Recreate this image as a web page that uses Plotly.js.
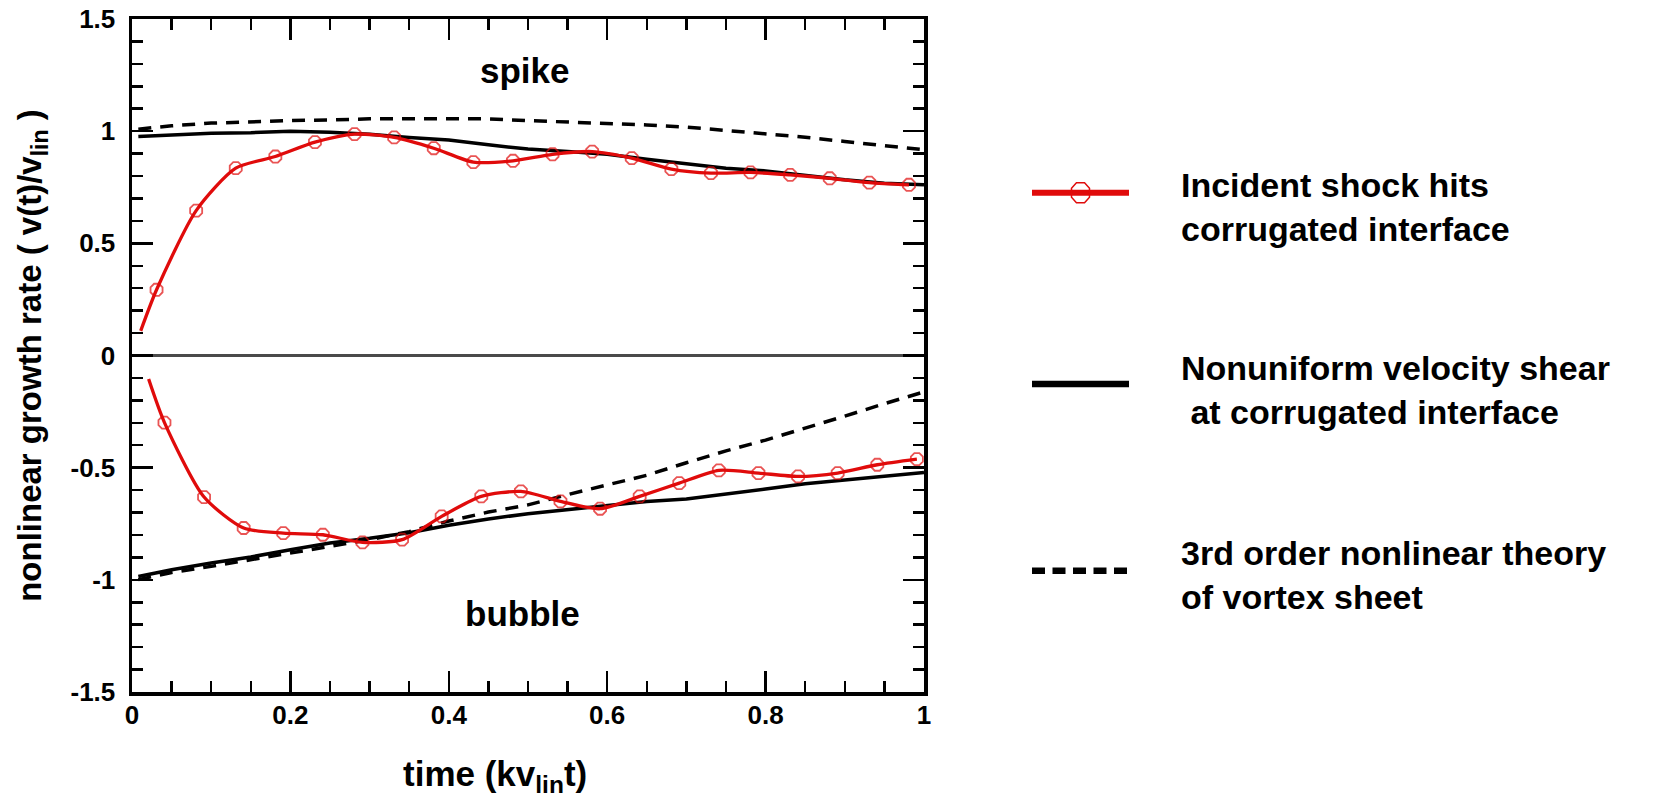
<!DOCTYPE html>
<html>
<head>
<meta charset="utf-8">
<script src="https://cdn.plot.ly/plotly-3.0.1.min.js"></script>
<style>
  html, body { margin: 0; padding: 0; background: #ffffff; }
  #chart { width: 1665px; height: 801px; }
</style>
</head>
<body>
<div id="chart"></div>
<script>
// ---- simulation: incident shock hitting a corrugated interface ----
const shockSpikeT = [0.011, 0.031, 0.081, 0.131, 0.181, 0.231, 0.281, 0.331, 0.381, 0.431, 0.481,
                     0.531, 0.581, 0.631, 0.681, 0.731, 0.781, 0.831, 0.881, 0.931, 0.981];
const shockSpikeV = [0.110, 0.293, 0.646, 0.835, 0.887, 0.951, 0.987, 0.972, 0.924, 0.862, 0.868,
                     0.897, 0.909, 0.880, 0.831, 0.813, 0.816, 0.805, 0.790, 0.771, 0.761];
const shockBubbleT = [0.021, 0.041, 0.091, 0.141, 0.191, 0.241, 0.291, 0.341, 0.391, 0.441, 0.491,
                      0.541, 0.591, 0.641, 0.691, 0.741, 0.791, 0.841, 0.891, 0.941, 0.991];
const shockBubbleV = [-0.105, -0.299, -0.631, -0.769, -0.792, -0.799, -0.833, -0.821, -0.717, -0.628, -0.606,
                      -0.650, -0.683, -0.628, -0.569, -0.512, -0.524, -0.539, -0.524, -0.487, -0.462];

// ---- models: nonuniform velocity shear and 3rd order vortex-sheet theory ----
const modelT = [0.008, 0.05, 0.10, 0.15, 0.20, 0.25, 0.30, 0.35, 0.40, 0.45, 0.50,
                0.55, 0.60, 0.65, 0.70, 0.75, 0.80, 0.85, 0.90, 0.95, 1.00];
const shearSpikeV = [0.976, 0.983, 0.991, 0.993, 1.000, 0.995, 0.986, 0.972, 0.961, 0.939, 0.920,
                     0.909, 0.897, 0.875, 0.854, 0.835, 0.823, 0.804, 0.783, 0.768, 0.761];
const shearBubbleV = [-0.985, -0.955, -0.925, -0.898, -0.866, -0.836, -0.815, -0.790, -0.757, -0.729, -0.705,
                      -0.688, -0.668, -0.651, -0.640, -0.616, -0.595, -0.572, -0.554, -0.536, -0.521];
const vortexSpikeV = [1.009, 1.024, 1.036, 1.043, 1.047, 1.050, 1.055, 1.055, 1.055, 1.055, 1.047,
                      1.041, 1.036, 1.028, 1.018, 1.003, 0.991, 0.973, 0.954, 0.935, 0.917];
const vortexBubbleV = [-0.999, -0.967, -0.940, -0.910, -0.881, -0.851, -0.821, -0.785, -0.738, -0.698, -0.666,
                       -0.620, -0.576, -0.534, -0.478, -0.425, -0.377, -0.325, -0.270, -0.215, -0.162];

// ---- axis ticks ----
const xTickVals = [0, 0.2, 0.4, 0.6, 0.8, 1];
const xTickText = ['0', '0.2', '0.4', '0.6', '0.8', '1'];
const yTickVals = [-1.5, -1, -0.5, 0, 0.5, 1, 1.5];
const yTickText = ['-1.5', '-1', '-0.5', '0', '0.5', '1', '1.5'];

// ---- legend entries ----
const legendLabels = [
  'Incident shock hits<br>corrugated interface',
  'Nonuniform velocity shear<br>\u00a0at corrugated interface',
  '3rd order nonlinear theory<br>of vortex sheet'
];

const FONT = 'Liberation Sans, Arial, Helvetica, sans-serif';
const RED = '#e00b0b';
const W = 1665, H = 801;
const M = { l: 132, r: 741, t: 19, b: 109, pad: 0 };
const plotW = W - M.l - M.r;
const plotH = H - M.t - M.b;
const px = v => (v - M.l) / plotW;          // page pixel -> paper x
const py = v => (H - M.b - v) / plotH;      // page pixel -> paper y

// open markers on every simulation sample except the first one
const markerSizes = arr => arr.map((_, i) => (i === 0 ? 0 : 13));

const shockStyle = {
  mode: 'lines+markers',
  line: { color: RED, width: 3.3, shape: 'spline', smoothing: 0.7 },
  marker: { symbol: 'octagon-open', color: RED, line: { color: RED, width: 1.8 } },
  showlegend: false, hoverinfo: 'x+y'
};

const traces = [
  { x: modelT, y: vortexSpikeV, mode: 'lines', line: { color: '#000', width: 3.5, dash: '13px,9px' }, showlegend: false },
  { x: modelT, y: vortexBubbleV, mode: 'lines', line: { color: '#000', width: 3.5, dash: '13px,9px' }, showlegend: false },
  { x: modelT, y: shearSpikeV, mode: 'lines', line: { color: '#000', width: 3.5 }, showlegend: false },
  { x: modelT, y: shearBubbleV, mode: 'lines', line: { color: '#000', width: 3.5 }, showlegend: false },
  Object.assign({}, shockStyle, { x: shockSpikeT, y: shockSpikeV,
    marker: Object.assign({}, shockStyle.marker, { size: markerSizes(shockSpikeT) }) }),
  Object.assign({}, shockStyle, { x: shockBubbleT, y: shockBubbleV,
    marker: Object.assign({}, shockStyle.marker, { size: markerSizes(shockBubbleT) }) })
];

// legend keys drawn beside the plot
const keyX0 = 1032, keyX1 = 1129;
const keyY = [192.7, 384, 570.7];
const octagon = (cx, cy, hw, hh) => {
  const c = 0.45;
  const pts = [[-hw * c, -hh], [hw * c, -hh], [hw, -hh * c], [hw, hh * c],
               [hw * c, hh], [-hw * c, hh], [-hw, hh * c], [-hw, -hh * c]];
  return 'M' + pts.map(p => px(cx + p[0]) + ',' + py(cy + p[1])).join('L') + 'Z';
};

const shapes = [
  { type: 'line', xref: 'paper', yref: 'paper', x0: px(keyX0), x1: px(keyX1), y0: py(keyY[0]), y1: py(keyY[0]),
    line: { color: RED, width: 6 } },
  { type: 'path', xref: 'paper', yref: 'paper', path: octagon((keyX0 + keyX1) / 2, keyY[0], 9, 10),
    line: { color: RED, width: 1.5 }, fillcolor: 'rgba(0,0,0,0)' },
  { type: 'line', xref: 'paper', yref: 'paper', x0: px(keyX0), x1: px(keyX1), y0: py(keyY[1]), y1: py(keyY[1]),
    line: { color: '#000', width: 6.5 } },
  { type: 'line', xref: 'paper', yref: 'paper', x0: px(keyX0), x1: px(keyX1), y0: py(keyY[2]), y1: py(keyY[2]),
    line: { color: '#000', width: 6.5, dash: '13px,7.5px' } }
];

const boldFont = size => ({ family: FONT, size: size, color: '#000', weight: 'bold' });
const legendCenters = [207, 390.3, 575.3];

const annotations = [
  { xref: 'paper', yref: 'paper', x: px(525), y: py(71), text: 'spike', showarrow: false,
    xanchor: 'center', yanchor: 'middle', font: boldFont(35) },
  { xref: 'paper', yref: 'paper', x: px(522), y: py(613), text: 'bubble', showarrow: false,
    xanchor: 'center', yanchor: 'middle', font: boldFont(35) },
  { xref: 'paper', yref: 'paper', x: px(495), y: py(776), text: 'time (kv<sub>lin</sub>t)', showarrow: false,
    xanchor: 'center', yanchor: 'middle', font: boldFont(35) }
].concat(legendLabels.map((t, i) => ({
  xref: 'paper', yref: 'paper', x: px(1179), y: py(legendCenters[i]), text: t, showarrow: false,
  xanchor: 'left', yanchor: 'middle', align: 'left', font: boldFont(34)
})));

const axisCommon = {
  showgrid: false, showline: true, linecolor: '#000', linewidth: 3.5, mirror: 'ticks',
  ticks: 'inside', ticklen: 21, tickwidth: 2.5, tickcolor: '#000',
  tickmode: 'array', tickfont: boldFont(26), fixedrange: true
};

const layout = {
  width: W, height: H,
  margin: M,
  paper_bgcolor: '#ffffff', plot_bgcolor: '#ffffff',
  font: { family: FONT, color: '#000' },
  showlegend: false,
  xaxis: Object.assign({}, axisCommon, {
    range: [0, 1], tickvals: xTickVals, ticktext: xTickText, zeroline: false,
    ticklabelstandoff: -3,
    minor: { dtick: 0.05, tick0: 0, ticks: 'inside', ticklen: 11, tickwidth: 2.5, tickcolor: '#000', showgrid: false }
  }),
  yaxis: Object.assign({}, axisCommon, {
    range: [-1.5, 1.5], tickvals: yTickVals, ticktext: yTickText,
    zeroline: true, zerolinecolor: '#4a4a4a', zerolinewidth: 3,
    ticklabelstandoff: 8,
    minor: { dtick: 0.1, tick0: 0, ticks: 'inside', ticklen: 11, tickwidth: 2.5, tickcolor: '#000', showgrid: false },
    title: { text: 'nonlinear growth rate ( v(t)/v<sub>lin</sub> )', font: boldFont(33), standoff: 20 }
  }),
  shapes: shapes,
  annotations: annotations
};

Plotly.newPlot('chart', traces, layout, { displayModeBar: false, staticPlot: true });
</script>
</body>
</html>
